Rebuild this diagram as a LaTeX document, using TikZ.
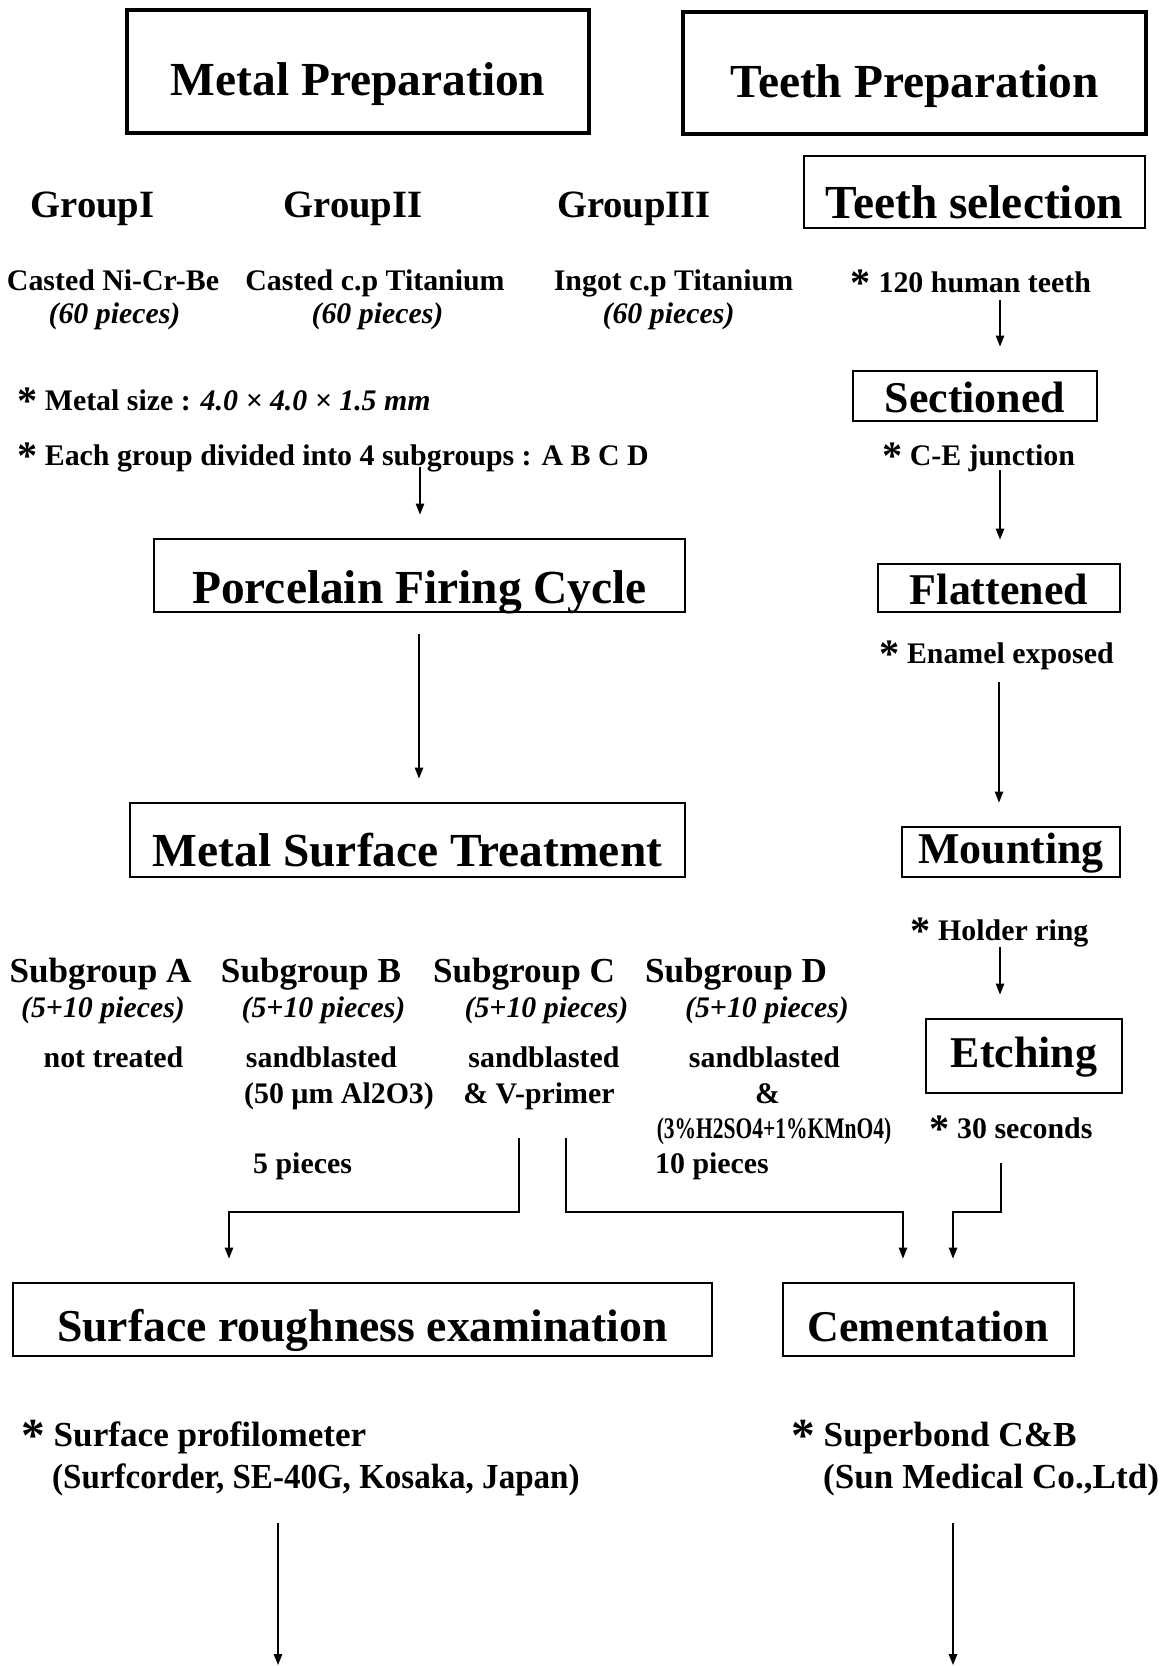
\documentclass[tikz,border=0pt]{standalone}
\usepackage{fontspec}
\setmainfont{Liberation Serif}
\usetikzlibrary{arrows.meta}
\newcommand{\bigast}{\raisebox{-0.35ex}{\scalebox{1.35}{*}}}
\begin{document}
\begin{tikzpicture}[x=0.02cm, y=-0.02cm,
    big/.style={font=\fontsize{27}{30}\selectfont\bfseries},
    mid/.style={font=\fontsize{25}{28}\selectfont\bfseries},
    grp/.style={font=\fontsize{22}{26}\selectfont\bfseries},
    sub/.style={font=\fontsize{20}{24}\selectfont\bfseries},
    txt/.style={font=\fontsize{17}{20}\selectfont\bfseries, anchor=base},
    ital/.style={font=\fontsize{17}{20}\selectfont\bfseries\itshape, anchor=base},
    note/.style={font=\fontsize{20}{24}\selectfont\bfseries, anchor=base west},
    box/.style={draw, line width=1.1pt, inner sep=0pt, anchor=base},
    arr/.style={-{Triangle[length=2.2mm,width=1.7mm]}, line width=0.75pt, shorten >=0.47cm},
    ]
    \useasboundingbox (0,0) rectangle (1167,1666);

    % Title boxes
    \node[box, big, line width=1.9pt, text height=1.70cm, text depth=0.76cm, minimum width=9.24cm] (metalprep) at (358,95) {Metal Preparation};
    \node[box, big, line width=1.9pt, text height=1.70cm, text depth=0.74cm, minimum width=9.26cm] (teethprep) at (914.5,97) {Teeth Preparation};

    % Metal groups
    \node[grp, anchor=base] (gI) at (92.5,217) {GroupI};
    \node[grp, anchor=base] (gII) at (353,217) {GroupII};
    \node[grp, anchor=base] (gIII) at (634,217) {GroupIII};
    \node[txt] (alloyI) at (113,290) {Casted Ni-Cr-Be};
    \node[txt] (alloyII) at (375,290) {Casted c.p Titanium};
    \node[txt] (alloyIII) at (673.5,290) {Ingot c.p Titanium};
    \node[ital] (nI) at (114.5,323) {(60 pieces)};
    \node[ital] (nII) at (377.5,323) {(60 pieces)};
    \node[ital] (nIII) at (668.5,323) {(60 pieces)};
    \node[txt, anchor=base west] (size) at (11,410) {\bigast{} Metal size : \textit{4.0 × 4.0 × 1.5 mm}};
    \node[txt, anchor=base west] (divide) at (11,465) {\bigast{} Each group divided into 4 subgroups : A B C D};

    % Teeth column
    \node[box, big, text height=1.24cm, text depth=0.20cm, minimum width=6.82cm] (teethsel) at (974.5,218) {Teeth selection};
    \node[txt] (human) at (971,292) {\bigast{} 120 human teeth};
    \node[box, mid, text height=0.82cm, text depth=0.18cm, minimum width=4.88cm] (sectioned) at (975,412) {Sectioned};
    \node[txt] (junction) at (978.5,465) {\bigast{} C-E junction};
    \node[box, mid, text height=0.80cm, text depth=0.16cm, minimum width=4.84cm] (flattened) at (999,604) {Flattened};
    \node[txt] (enamel) at (996.5,663) {\bigast{} Enamel exposed};
    \node[box, mid, text height=0.72cm, text depth=0.28cm, minimum width=4.36cm] (mounting) at (1011,863) {Mounting};
    \node[txt] (holder) at (999.5,940) {\bigast{} Holder ring};
    \node[box, mid, text height=0.96cm, text depth=0.52cm, minimum width=3.92cm] (etching) at (1024,1067) {Etching};
    \node[txt] (seconds) at (1011,1138) {\bigast{} 30 seconds};

    % Metal column
    \node[box, big, text height=1.28cm, text depth=0.18cm, minimum width=10.62cm] (firing) at (419.5,603) {Porcelain Firing Cycle};
    \node[box, big, text height=1.26cm, text depth=0.22cm, minimum width=11.10cm] (surftreat) at (407.5,866) {Metal Surface Treatment};

    % Subgroups
    \node[sub, anchor=base] (sA) at (100.5,982) {Subgroup A};
    \node[sub, anchor=base] (sB) at (311,982) {Subgroup B};
    \node[sub, anchor=base] (sC) at (524,982) {Subgroup C};
    \node[sub, anchor=base] (sD) at (736,982) {Subgroup D};
    \node[ital] (pA) at (103,1017) {(5+10 pieces)};
    \node[ital] (pB) at (323.5,1017) {(5+10 pieces)};
    \node[ital] (pC) at (546.5,1017) {(5+10 pieces)};
    \node[ital] (pD) at (767,1017) {(5+10 pieces)};
    \node[txt] (tA) at (113.5,1067) {not treated};
    \node[txt] (tB) at (321.5,1067) {sandblasted};
    \node[txt] (tC) at (544,1067) {sandblasted};
    \node[txt] (tD) at (764.5,1067) {sandblasted};
    \node[txt] (tB2) at (339,1103) {(50 µm Al2O3)};
    \node[txt] (tC2) at (539,1103) {\& V-primer};
    \node[txt] (tD2) at (767.5,1103) {\&};
    \node[txt] (tD3) at (774,1138) {\scalebox{0.72}[1]{(3\%H2SO4+1\%KMnO4)}};
    \node[txt, anchor=base west] (five) at (247,1173) {5 pieces};
    \node[txt, anchor=base west] (ten) at (649,1173) {10 pieces};

    % Tests
    \node[box, font=\fontsize{26}{30}\selectfont\bfseries, text height=1.16cm, text depth=0.30cm, minimum width=13.98cm] (roughness) at (362.5,1341) {Surface roughness examination};
    \node[box, mid, text height=1.16cm, text depth=0.30cm, minimum width=5.82cm] (cementation) at (928.5,1341) {Cementation};
    \node[note] (profil) at (15,1446) {\bigast{} Surface profilometer};
    \node[note] (profil2) at (46,1488) {\scalebox{0.94}[1]{(Surfcorder, SE-40G, Kosaka, Japan)}};
    \node[note] (bond) at (785,1446) {\bigast{} Superbond C\&B};
    \node[note] (bond2) at (817,1488) {(Sun Medical Co.,Ltd)};

    % Arrows
    \coordinate (a1) at (1000,300);
    \coordinate (a2) at (1000,470);
    \coordinate (a3) at (420,467);
    \coordinate (a4) at (419,634);
    \coordinate (a5) at (999,682);
    \coordinate (a6) at (1000,947);
    \draw[arr] (a1) -- (a1 |- sectioned.north);
    \draw[arr] (a2) -- (a2 |- flattened.north);
    \draw[arr] (a3) -- (a3 |- firing.north);
    \draw[arr] (a4) -- (a4 |- surftreat.north);
    \draw[arr] (a5) -- (a5 |- mounting.north);
    \draw[arr] (a6) -- (a6 |- etching.north);

    % Split to the tests
    \coordinate (fromB) at (519,1138);
    \coordinate (toR) at (229,1212);
    \coordinate (fromC) at (566,1138);
    \coordinate (toC) at (903,1212);
    \coordinate (fromE) at (1001,1163);
    \coordinate (toE) at (953,1212);
    \draw[arr] (fromB) |- (toR) -- (toR |- roughness.north);
    \draw[arr] (fromC) |- (toC) -- (toC |- cementation.north);
    \draw[arr] (fromE) |- (toE) -- (toE |- cementation.north);

    % Outgoing arrows
    \coordinate (outR) at (278,1523);
    \coordinate (outC) at (953,1523);
    \draw[arr, shorten >=0pt] (outR) -- ++(0,142);
    \draw[arr, shorten >=0pt] (outC) -- ++(0,142);
\end{tikzpicture}
\end{document}
